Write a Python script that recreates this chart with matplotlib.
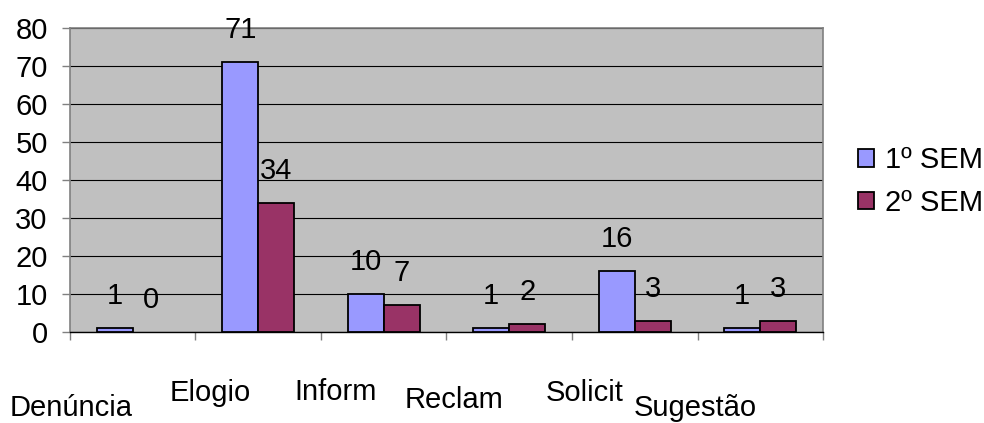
import numpy as np
import matplotlib
matplotlib.use('Agg')
import matplotlib.pyplot as plt
from matplotlib.transforms import blended_transform_factory

# dados por tipo de manifestação
categorias = ['Denúncia', 'Elogio', 'Inform', 'Reclam', 'Solicit', 'Sugestão']
sem1 = [1, 71, 10, 1, 16, 1]
sem2 = [0, 34, 7, 2, 3, 3]
series = ['1º SEM', '2º SEM']

# deslocamento dos rótulos do eixo x (em categorias / fração do eixo)
rot_dx = [-0.49, -0.38, -0.38, -0.44, -0.40, -0.52]
rot_dy = [-0.25, -0.20, -0.197, -0.224, -0.20, -0.25]

FS = 21
plt.rcParams['font.family'] = ['Liberation Sans', 'DejaVu Sans']

fig = plt.figure(figsize=(9.84, 4.23), dpi=100)
ax = fig.add_axes([0.0711, 0.2151, 0.7653, 0.7187])
ax.set_facecolor('#C0C0C0')

x = np.arange(len(categorias)) + 0.5
w = 0.287

b1 = ax.bar(x - w / 2, sem1, w, color='#9999FF', edgecolor='black',
            linewidth=[1.3 if v else 0 for v in sem1], label=series[0], zorder=3)
b2 = ax.bar(x + w / 2, sem2, w, color='#993366', edgecolor='black',
            linewidth=[1.3 if v else 0 for v in sem2], label=series[1], zorder=3)

# valores acima das barras
for barras, vals in ((b1, sem1), (b2, sem2)):
    for r, v in zip(barras, vals):
        ax.annotate(str(v), (r.get_x() + r.get_width() / 2, v),
                    xytext=(0, 23), textcoords='offset points',
                    ha='center', va='center', fontsize=FS, zorder=4)

ax.set_xlim(0, len(categorias))
ax.set_ylim(0, 80)
ax.set_yticks(range(0, 81, 10))
ax.set_xticks(range(0, len(categorias) + 1))
ax.set_xticklabels([])
ax.tick_params(axis='y', labelsize=FS, length=6, width=1, color='#808080', pad=10)
ax.tick_params(axis='x', length=6, width=1, color='#808080')
ax.yaxis.grid(True, color='black', linewidth=0.8, zorder=1)
ax.set_axisbelow(True)

for s in ('left', 'right', 'top'):
    ax.spines[s].set_color('#808080')
    ax.spines[s].set_linewidth(1.2)
ax.spines['bottom'].set_color('black')
ax.spines['bottom'].set_linewidth(1)

trans = blended_transform_factory(ax.transData, ax.transAxes)
for i, nome in enumerate(categorias):
    ax.text(x[i] + rot_dx[i], rot_dy[i], nome, transform=trans,
            ha='center', va='center', fontsize=FS)

h1 = plt.Rectangle((0, 0), 1, 1, facecolor='#9999FF', edgecolor='black', linewidth=1.3)
h2 = plt.Rectangle((0, 0), 1, 1, facecolor='#993366', edgecolor='black', linewidth=1.3)
fig.legend([h1, h2], series, loc='center left', bbox_to_anchor=(0.872, 0.571),
           frameon=False, fontsize=FS, borderpad=0, borderaxespad=0,
           handlelength=0.55, handleheight=0.55, handletextpad=0.38,
           labelspacing=0.5)

fig.savefig('out.png', dpi=100)
